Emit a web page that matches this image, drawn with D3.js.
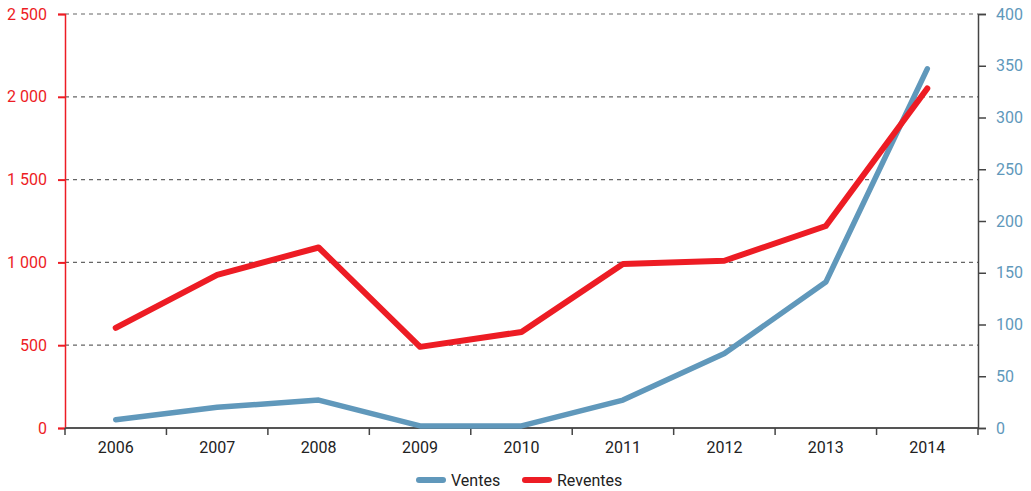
<!DOCTYPE html>
<html>
<head>
<meta charset="utf-8">
<script src="https://cdn.jsdelivr.net/npm/d3@7"></script>
<style>
  body { margin: 0; background: #fff; }
  svg text { font-family: "Liberation Sans Narrow", "Roboto", "Liberation Sans", sans-serif; }
</style>
</head>
<body>
<svg id="chart"></svg>
<script>
const years = ["2006", "2007", "2008", "2009", "2010", "2011", "2012", "2013", "2014"];
const reventes = [605, 925, 1090, 490, 580, 990, 1010, 1220, 2050]; // left axis
const ventes = [8, 20, 27, 2, 2, 27, 72, 141, 347]; // right axis
const leftTicks = [0, 500, 1000, 1500, 2000, 2500];
const rightTicks = [0, 50, 100, 150, 200, 250, 300, 350, 400];

const W = 1031, H = 491;
const margin = { top: 14, right: 53, bottom: 63, left: 65 };
const width = W - margin.left - margin.right;
const height = H - margin.top - margin.bottom;

const RED = "#ed1c24", BLUE = "#6098bb";

const svg = d3.select("#chart").attr("width", W).attr("height", H);
const g = svg.append("g").attr("transform", `translate(${margin.left},${margin.top})`);

const x = d3.scaleBand().domain(years).range([0, width]);
const yL = d3.scaleLinear().domain([0, 2500]).range([height, 0]);
const yR = d3.scaleLinear().domain([0, 400]).range([height, 0]);
const fmt = (d) => d3.format(",")(d).replace(/,/g, " ");

// gridlines
g.append("g")
  .selectAll("line")
  .data(leftTicks.filter((d) => d > 0))
  .enter()
  .append("line")
  .attr("x1", 0)
  .attr("x2", width)
  .attr("y1", (d) => yL(d))
  .attr("y2", (d) => yL(d))
  .attr("stroke", "#666")
  .attr("stroke-width", 1.2)
  .attr("stroke-dasharray", "4,4");

// left axis
const axL = g.append("g").call(d3.axisLeft(yL).tickValues(leftTicks).tickFormat(fmt).tickSize(7).tickPadding(11));
axL.select(".domain").attr("stroke", RED).attr("stroke-width", 1.5);
axL.selectAll(".tick line").attr("stroke", RED).attr("stroke-width", 2);
axL.selectAll("text").attr("fill", RED).attr("font-size", "16px");

// right axis
const axR = g.append("g").attr("transform", `translate(${width},0)`)
  .call(d3.axisRight(yR).tickValues(rightTicks).tickSize(8).tickPadding(10));
axR.select(".domain").attr("stroke", "#444").attr("stroke-width", 1.5);
axR.selectAll(".tick line").attr("stroke", "#444").attr("stroke-width", 1.5);
axR.selectAll("text").attr("fill", BLUE).attr("font-size", "16px");

// bottom axis
const axB = g.append("g").attr("transform", `translate(0,${height})`)
  .call(d3.axisBottom(x).tickSize(0).tickPadding(14));
axB.select(".domain").remove();
axB.selectAll("text").attr("fill", "#222").attr("font-size", "16px");
g.append("line")
  .attr("x1", 0).attr("x2", width)
  .attr("y1", height).attr("y2", height)
  .attr("stroke", "#555").attr("stroke-width", 2);
g.append("g")
  .selectAll("line")
  .data(years.map((d) => x(d)).concat([width]))
  .enter()
  .append("line")
  .attr("x1", (d) => d).attr("x2", (d) => d)
  .attr("y1", height).attr("y2", height + 7)
  .attr("stroke", "#444").attr("stroke-width", 1.5);

const cx = (i) => x(years[i]) + x.bandwidth() / 2;

g.append("path")
  .datum(ventes)
  .attr("fill", "none")
  .attr("stroke", BLUE)
  .attr("stroke-width", 5.5)
  .attr("stroke-linecap", "round")
  .attr("stroke-linejoin", "round")
  .attr("d", d3.line().x((d, i) => cx(i)).y((d) => yR(d)));

g.append("path")
  .datum(reventes)
  .attr("fill", "none")
  .attr("stroke", RED)
  .attr("stroke-width", 6)
  .attr("stroke-linecap", "round")
  .attr("stroke-linejoin", "round")
  .attr("d", d3.line().x((d, i) => cx(i)).y((d) => yL(d)));

// legend
const legend = svg.append("g").attr("transform", "translate(0,480)");
const items = [
  { name: "Ventes", color: BLUE, x: 419 },
  { name: "Reventes", color: RED, x: 525 },
];
items.forEach((it) => {
  legend.append("line")
    .attr("x1", it.x).attr("x2", it.x + 24)
    .attr("y1", 0).attr("y2", 0)
    .attr("stroke", it.color).attr("stroke-width", 6).attr("stroke-linecap", "round");
  legend.append("text")
    .attr("x", it.x + 32).attr("y", 6)
    .attr("font-size", "16px").attr("fill", "#222")
    .text(it.name);
});
</script>
</body>
</html>
